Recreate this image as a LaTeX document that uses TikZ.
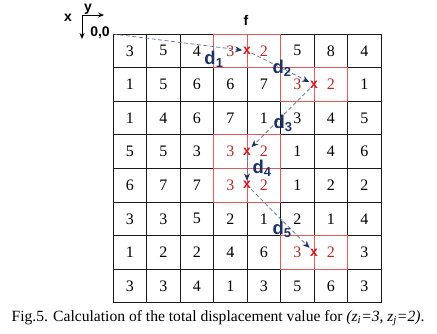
\documentclass[tikz,border=0pt]{standalone}
\usepackage{fontspec}
\setmainfont{Liberation Serif}
\newfontfamily\arial{Liberation Sans}
\usetikzlibrary{arrows.meta}
\definecolor{navy}{RGB}{28,50,100}
\definecolor{dashc}{RGB}{95,110,150}
\definecolor{redt}{RGB}{185,40,40}
\definecolor{redx}{RGB}{210,25,35}
\definecolor{redl}{RGB}{225,90,90}
\begin{document}
\begin{tikzpicture}[x=1pt,y=-1pt,
  cellnum/.style={font=\fontsize{16}{16}\selectfont, inner sep=0pt},
  rednum/.style={cellnum, text=redt},
  xmark/.style={font=\arial\bfseries\fontsize{14}{14}\selectfont, text=redx, inner sep=0.3pt},
  dlab/.style={font=\arial\bfseries\fontsize{18.5}{18.5}\selectfont, text=navy, inner sep=0pt},
  lab/.style={font=\arial\bfseries\fontsize{14}{14}\selectfont, inner sep=0pt},
  arr/.style={dashc, dash pattern=on 4pt off 2.5pt, line width=0.7pt, -{Stealth[length=7pt,width=6pt,color=navy]}, shorten >=0.5pt},
  gridl/.style={black!90, line width=0.8pt},
  redbox/.style={redl, line width=0.7pt}
]
\useasboundingbox (0,0) rectangle (437,334);
\def\L{113}\def\T{34}\def\W{33.5}\def\H{33.6}
% grid
\foreach \i in {0,...,8}{
  \draw[gridl] ({\L+\i*\W},\T) -- ({\L+\i*\W},{\T+8*\H});
  \draw[gridl] (\L,{\T+\i*\H}) -- ({\L+8*\W},{\T+\i*\H});
}
% red boxes
\foreach \r/\c in {0/3,1/5,3/3,4/3,6/5}{
  \draw[redbox] ({\L+\c*\W},{\T+\r*\H}) rectangle ({\L+(\c+2)*\W},{\T+(\r+1)*\H});
  \draw[redbox] ({\L+(\c+1)*\W},{\T+\r*\H}) -- ({\L+(\c+1)*\W},{\T+(\r+1)*\H});
}
% numbers
\foreach \row [count=\r from 0] in {
  {3,5,4,,,5,8,4},
  {1,5,6,6,7,,,1},
  {1,4,6,7,1,3,4,5},
  {5,5,3,,,1,4,6},
  {6,7,7,,,1,2,2},
  {3,3,5,2,1,2,1,4},
  {1,2,2,4,6,,,3},
  {3,3,4,1,3,5,6,3}}{
  \foreach \v [count=\c from 0] in \row {
    \node[cellnum] (n-\r-\c) at ({\L+(\c+0.5)*\W},{\T+(\r+0.5)*\H}) {\v};
  }
}
% red numbers
\foreach \r/\c in {0/3,1/5,3/3,4/3,6/5}{
  \node[rednum] (ra-\r) at ({\L+(\c+0.5)*\W},{\T+(\r+0.5)*\H}) {3};
  \node[rednum] (rb-\r) at ({\L+(\c+1.5)*\W},{\T+(\r+0.5)*\H}) {2};
}
% origin and marks
\coordinate (o) at (\L,\T);
\node[xmark] (m1) at ({\L+4*\W},{\T+0.5*\H}) {x};
\node[xmark] (m2) at ({\L+6*\W},{\T+1.5*\H}) {x};
\node[xmark] (m3) at ({\L+4*\W},{\T+3.5*\H}) {x};
\node[xmark] (m4) at ({\L+4*\W},{\T+4.5*\H}) {x};
\node[xmark] (m5) at ({\L+6*\W},{\T+6.5*\H}) {x};
\draw[arr] (o) -- (m1);
\draw[arr] (m1) -- (m2);
\draw[arr] (m2) -- (m3);
\draw[arr] (m3) -- (m4);
\draw[arr] (m4) -- (m5);
% d labels
\node[dlab] (d1) at (214,59) {d\textsubscript{1}};
\node[dlab] (d2) at (282,68) {d\textsubscript{2}};
\node[dlab] (d3) at (283,123) {d\textsubscript{3}};
\node[dlab] (d4) at (262,168) {d\textsubscript{4}};
\node[dlab] (d5) at (282,229) {d\textsubscript{5}};
% axes
\coordinate (ax) at (82,15);
\coordinate (axd) at (82,39);
\coordinate (axr) at (104,15);
\draw[line width=0.8pt, -{Stealth[length=6pt,width=5pt]}] (ax) -- (axd);
\draw[line width=0.8pt, -{Stealth[length=6pt,width=5pt]}] (ax) -- (axr);
\node[lab] (xl) at (68,18) {x};
\node[lab] (yl) at (88,9) {y};
\node[lab] (zero) at (100,33) {0,0};
\node[lab] (fl) at (246,20) {f};
% caption
\node[font=\fontsize{15.6}{15.6}\selectfont, inner sep=0pt] (cap) at (218,318) {Fig.5. Calculation of the total displacement value for \textit{(z\textsubscript{i}=3, z\textsubscript{j}=2)}.};
\end{tikzpicture}
\end{document}
